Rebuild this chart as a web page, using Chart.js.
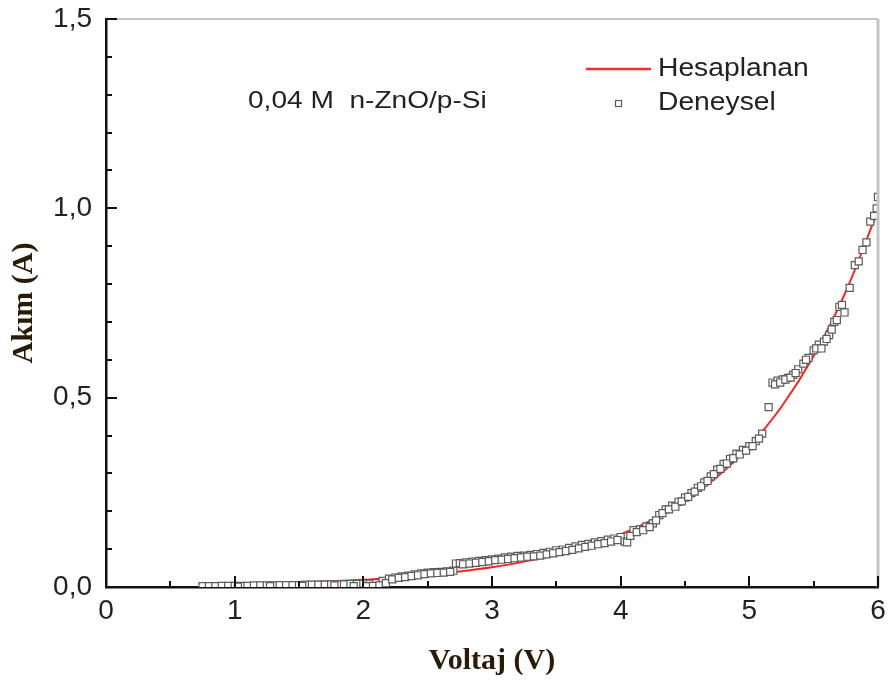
<!DOCTYPE html>
<html>
<head>
<meta charset="utf-8">
<script src="https://cdn.jsdelivr.net/npm/chart.js@4.4.1/dist/chart.umd.min.js"></script>
<style>
    html, body { margin: 0; padding: 0; background: #fff; }
    #kutu { position: relative; width: 891px; height: 687px; }
</style>
</head>
<body>
<div id="kutu"><canvas id="grafik" width="891" height="687"></canvas></div>
<script>
// Deneysel (measured) I–V points, upper edge of the band
const deneyselV = [
    0.75, 0.80, 0.85, 0.90, 0.95, 1.00, 1.05, 1.10, 1.15, 1.20, 1.25, 1.30, 1.35, 1.40, 1.45,
    1.50, 1.55, 1.60, 1.65, 1.70, 1.75, 1.80, 1.85, 1.90, 1.95, 2.00, 2.05, 2.10, 2.15, 2.20,
    2.25, 2.30, 2.35, 2.40, 2.45, 2.50, 2.55, 2.60, 2.65, 2.70, 2.72, 2.75, 2.80, 2.85, 2.90,
    2.95, 3.00, 3.05, 3.10, 3.15, 3.20, 3.25, 3.30, 3.35, 3.40, 3.45, 3.50, 3.55, 3.60, 3.65,
    3.70, 3.75, 3.80, 3.85, 3.90, 3.95, 4.00, 4.03, 4.05, 4.10, 4.15, 4.20, 4.25, 4.30, 4.35,
    4.40, 4.45, 4.50, 4.55, 4.60, 4.65, 4.70, 4.75, 4.80, 4.85, 4.90, 4.95, 5.00, 5.05, 5.10,
    5.15, 5.18, 5.22, 5.26, 5.30, 5.34, 5.38, 5.42, 5.46, 5.50, 5.54, 5.58, 5.62, 5.66, 5.70,
    5.74, 5.78, 5.82, 5.85, 5.88, 5.91, 5.94, 5.97, 5.99, 6.00
];
const deneyselI = [
    0.002, 0.002, 0.002, 0.003, 0.003, 0.003, 0.003, 0.003, 0.004, 0.004, 0.004, 0.004, 0.005, 0.005, 0.005,
    0.005, 0.006, 0.006, 0.006, 0.006, 0.007, 0.007, 0.007, 0.008, 0.008, 0.009, 0.009, 0.010, 0.016, 0.022,
    0.025, 0.028, 0.030, 0.033, 0.036, 0.038, 0.039, 0.040, 0.041, 0.043, 0.062, 0.063, 0.065, 0.067, 0.069,
    0.071, 0.073, 0.075, 0.078, 0.080, 0.082, 0.083, 0.085, 0.087, 0.090, 0.093, 0.097, 0.099, 0.103, 0.107,
    0.111, 0.114, 0.118, 0.121, 0.125, 0.128, 0.132, 0.120, 0.118, 0.150, 0.152, 0.160, 0.168, 0.190, 0.205,
    0.215, 0.225, 0.236, 0.248, 0.262, 0.276, 0.292, 0.310, 0.325, 0.338, 0.352, 0.362, 0.372, 0.385, 0.405,
    0.475, 0.540, 0.545, 0.548, 0.552, 0.560, 0.575, 0.590, 0.605, 0.625, 0.640, 0.648, 0.665, 0.700, 0.740,
    0.725, 0.790, 0.850, 0.860, 0.890, 0.910, 0.965, 0.980, 1.000, 1.030
];

// Deneysel, in-between readings (lower edge of the band)
const deneyselV2 = [
    1.025, 1.275, 1.525, 1.775, 1.925, 2.025, 2.075, 2.125, 2.175,
    2.225, 2.275, 2.325, 2.375, 2.425, 2.475, 2.525, 2.575, 2.625, 2.675, 2.775, 2.825,
    2.875, 2.925, 2.975, 3.025, 3.075, 3.125, 3.175, 3.225, 3.275, 3.325, 3.375, 3.425,
    3.475, 3.525, 3.575, 3.625, 3.675, 3.725, 3.775, 3.825, 3.875, 3.925, 3.975, 4.075,
    4.125, 4.175, 4.225, 4.275, 4.325, 4.375, 4.425, 4.475, 4.525, 4.575, 4.625, 4.675,
    4.725, 4.775, 4.825, 4.875, 4.925, 4.975, 5.025, 5.075, 5.20, 5.24, 5.28, 5.32, 5.36,
    5.44, 5.52, 5.56, 5.60, 5.64, 5.68, 5.72
];
const deneyselI2 = [
    0.001, 0.002, 0.003, 0.004, 0.002, 0.002, 0.003, 0.004, 0.010,
    0.020, 0.024, 0.026, 0.029, 0.031, 0.034, 0.036, 0.037, 0.038, 0.040, 0.060, 0.062,
    0.064, 0.066, 0.068, 0.071, 0.072, 0.074, 0.076, 0.078, 0.080, 0.081, 0.083, 0.086,
    0.089, 0.092, 0.095, 0.098, 0.102, 0.106, 0.109, 0.113, 0.116, 0.120, 0.124, 0.135,
    0.145, 0.150, 0.158, 0.176, 0.195, 0.205, 0.212, 0.226, 0.238, 0.252, 0.266, 0.280,
    0.298, 0.312, 0.326, 0.340, 0.350, 0.360, 0.372, 0.392, 0.535, 0.540, 0.548, 0.553, 0.565,
    0.600, 0.630, 0.630, 0.655, 0.680, 0.705, 0.745
];

// Hesaplanan (fitted) curve
const hesapV = [0.75, 1.00, 1.25, 1.50, 1.75, 2.00, 2.25, 2.50, 2.75, 3.00, 3.25, 3.50,
                3.75, 4.00, 4.25, 4.50, 4.75, 5.00, 5.25, 5.50, 5.75, 6.00];
const hesapI = [0.006, 0.007, 0.009, 0.012, 0.015, 0.019, 0.025, 0.032, 0.041, 0.052, 0.067, 0.085,
                0.109, 0.139, 0.178, 0.228, 0.291, 0.372, 0.476, 0.610, 0.780, 0.995];

const xTikleri = [0, 1, 2, 3, 4, 5, 6];
const yTikleri = [0, 0.5, 1.0, 1.5];

const YAZI = 'Liberation Sans, Arial, sans-serif';
const SERIF = 'Liberation Serif, Times New Roman, serif';

// the source figure is a bit wider than tall, so plugin text is stretched a little
function yaziYaz(ctx, metin, x, y, boyut, genislet) {
    ctx.save();
    ctx.font = boyut + 'px ' + YAZI;
    ctx.textBaseline = 'middle';
    ctx.translate(x, y);
    ctx.scale(genislet, 1);
    ctx.fillText(metin, 0, 0);
    ctx.restore();
}

// inward ticks, grey top/right frame, legend and label
const cerceveEklentisi = {
    id: 'cerceve',
    afterDraw(chart) {
        const { ctx, chartArea: a, scales: { x, y } } = chart;
        ctx.save();

        // top and right frame lines
        ctx.strokeStyle = '#c4c4c4';
        ctx.lineWidth = 2;
        ctx.beginPath();
        ctx.moveTo(a.left, a.top); ctx.lineTo(a.right, a.top);
        ctx.stroke();
        ctx.lineWidth = 3;
        ctx.beginPath();
        ctx.moveTo(a.right, a.top); ctx.lineTo(a.right, a.bottom);
        ctx.stroke();

        // inner ticks
        ctx.strokeStyle = '#111';
        ctx.lineWidth = 2;
        for (let i = 0; i <= 12; i++) {
            const px = Math.round(x.getPixelForValue(i * 0.5));
            const uzun = i % 2 === 0 ? 11 : 6;
            ctx.beginPath();
            ctx.moveTo(px, a.bottom); ctx.lineTo(px, a.bottom - uzun);
            ctx.stroke();
        }
        for (let i = 0; i <= 15; i++) {
            const py = Math.round(y.getPixelForValue(i * 0.1));
            const uzun = i % 5 === 0 ? 11 : 6;
            ctx.beginPath();
            ctx.moveTo(a.left, py); ctx.lineTo(a.left + uzun, py);
            ctx.stroke();
        }

        // legend
        ctx.strokeStyle = '#ff2a2a';
        ctx.lineWidth = 2.5;
        ctx.beginPath();
        ctx.moveTo(586, 69); ctx.lineTo(651, 69);
        ctx.stroke();
        ctx.strokeStyle = '#5a5a5a';
        ctx.lineWidth = 1.2;
        ctx.fillStyle = '#fff';
        ctx.fillRect(615, 100, 6, 6);
        ctx.strokeRect(615.5, 100.5, 6, 6);

        ctx.fillStyle = '#222';
        yaziYaz(ctx, 'Hesaplanan', 658, 69, 25, 1.13);
        yaziYaz(ctx, 'Deneysel', 658, 103, 25, 1.13);
        yaziYaz(ctx, '0,04 M  n-ZnO/p-Si', 248, 101, 24, 1.17);
        ctx.restore();
    }
};

const noktalar = [
    ...deneyselV.map((v, i) => ({ x: v, y: deneyselI[i] })),
    ...deneyselV2.map((v, i) => ({ x: v, y: deneyselI2[i] })),
];

new Chart(document.getElementById('grafik'), {
    type: 'scatter',
    data: {
        datasets: [
            {
                label: 'Deneysel',
                data: noktalar,
                pointStyle: 'rect',
                pointRadius: 5,
                pointBackgroundColor: '#fff',
                pointBorderColor: '#5a5a5a',
                pointBorderWidth: 1.2,
                order: 0,
            },
            {
                label: 'Hesaplanan',
                data: hesapV.map((v, i) => ({ x: v, y: hesapI[i] })),
                showLine: true,
                borderColor: '#ff2020',
                borderWidth: 2,
                pointRadius: 0,
                cubicInterpolationMode: 'monotone',
                order: 1,
            },
        ]
    },
    options: {
        responsive: false,
        animation: false,
        devicePixelRatio: 1,
        layout: { padding: { top: 19, right: 13, left: 0, bottom: 0 } },
        plugins: { legend: { display: false }, tooltip: { enabled: false } },
        scales: {
            x: {
                type: 'linear', min: 0, max: 6,
                afterBuildTicks: s => { s.ticks = xTikleri.map(v => ({ value: v })); },
                afterFit: s => { s.height = 100; s.paddingLeft = 0; s.paddingRight = 0; },
                ticks: { color: '#222', font: { family: YAZI, size: 28 }, padding: 7,
                         callback: v => String(v) },
                grid: { display: false, drawTicks: false },
                border: { display: true, color: '#111', width: 2.5 },
                title: { display: true, text: 'Voltaj (V)', color: '#2a1a08',
                         font: { family: SERIF, size: 30, weight: 'bold' }, padding: { bottom: 8 } },
            },
            y: {
                type: 'linear', min: 0, max: 1.5,
                afterBuildTicks: s => { s.ticks = yTikleri.map(v => ({ value: v })); },
                afterFit: s => { s.width = 106; s.paddingTop = 0; s.paddingBottom = 0; },
                ticks: { color: '#222', font: { family: YAZI, size: 28 }, padding: 14,
                         callback: v => v.toFixed(1).replace('.', ',') },
                grid: { display: false, drawTicks: false },
                border: { display: true, color: '#111', width: 2.5 },
                title: { display: true, text: 'Akım (A)', color: '#2a1a08',
                         font: { family: SERIF, size: 30, weight: 'bold' }, padding: { top: 6 } },
            }
        }
    },
    plugins: [cerceveEklentisi]
});
</script>
</body>
</html>
